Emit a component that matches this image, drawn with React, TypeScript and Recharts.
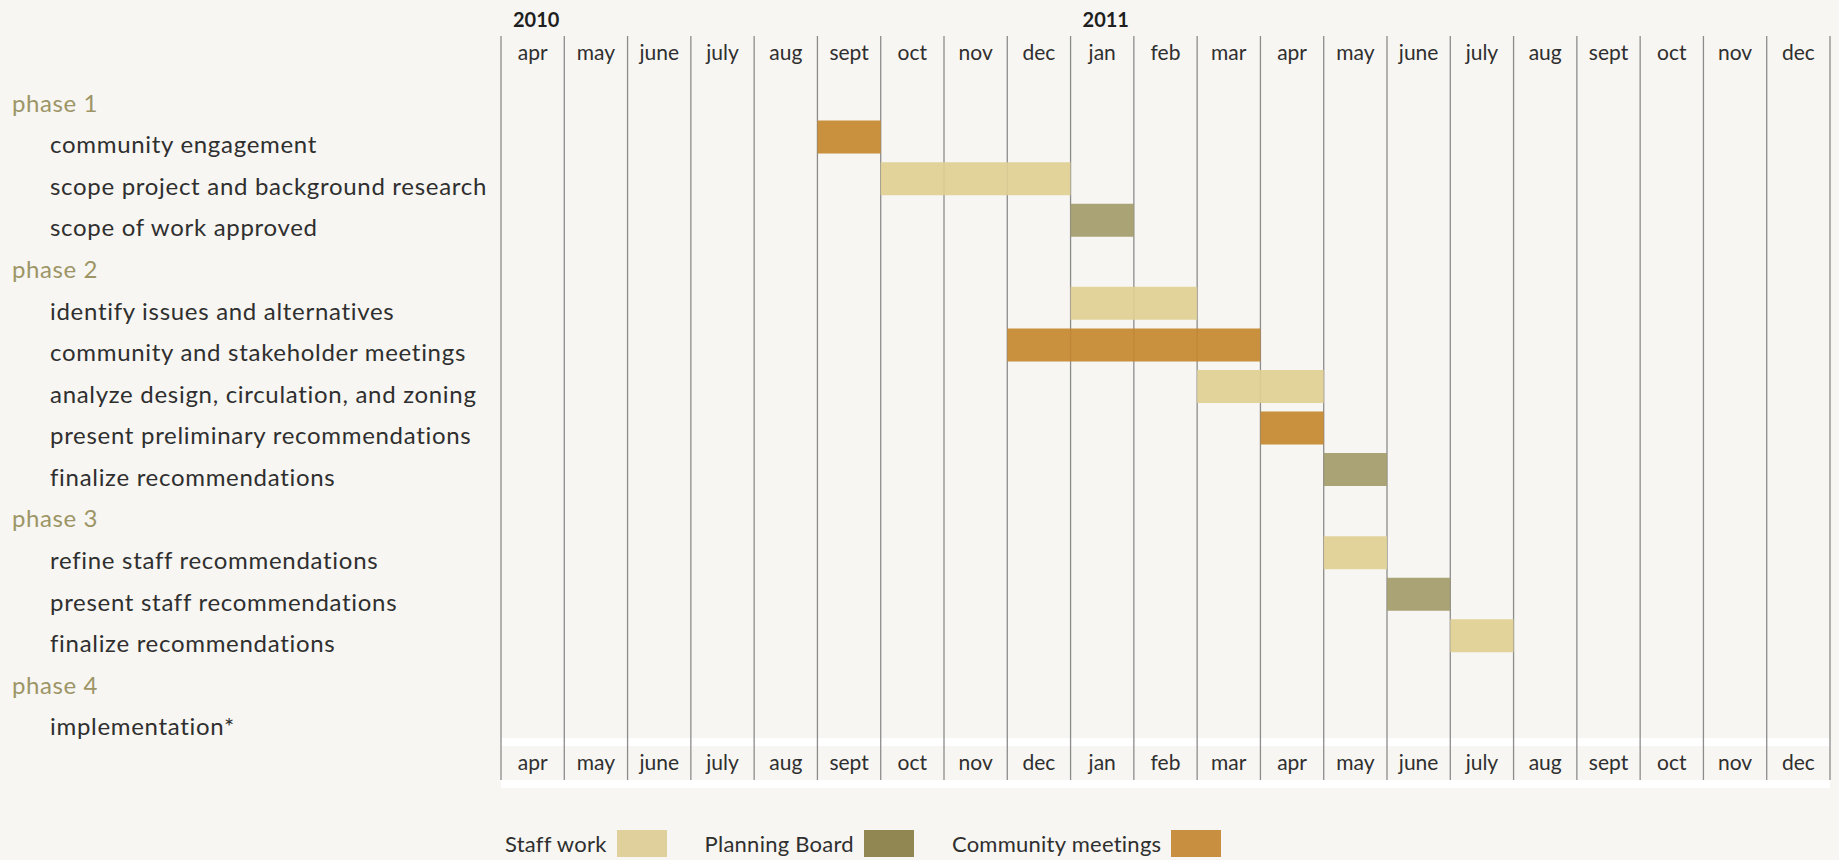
import React from 'react';
import { BarChart, Bar, XAxis, YAxis, CartesianGrid, Cell } from 'recharts';

// ---------- data ----------
const MONTHS = ['apr', 'may', 'june', 'july', 'aug', 'sept', 'oct', 'nov', 'dec', 'jan', 'feb', 'mar', 'apr', 'may', 'june', 'july', 'aug', 'sept', 'oct', 'nov', 'dec'];
const YEAR_LABELS = ['2010', '2011'];
const YEAR_START_MONTH = [0, 9];

const ROW_LABELS = [
  'phase 1',
  'community engagement',
  'scope project and background research',
  'scope of work approved',
  'phase 2',
  'identify issues and alternatives',
  'community and stakeholder meetings',
  'analyze design, circulation, and zoning',
  'present preliminary recommendations',
  'finalize recommendations',
  'phase 3',
  'refine staff recommendations',
  'present staff recommendations',
  'finalize recommendations',
  'phase 4',
  'implementation*',
];
const ROW_KIND = ['phase', 'task', 'task', 'task', 'phase', 'task', 'task', 'task', 'task', 'task', 'phase', 'task', 'task', 'task', 'phase', 'task'];
// month index (0 = apr 2010)
const TASK_START = [null, 5, 6, 9, null, 9, 8, 11, 12, 13, null, 13, 14, 15, null, null];
const TASK_END = [null, 6, 9, 10, null, 11, 12, 13, 13, 14, null, 14, 15, 16, null, null];
const TASK_TYPE = [null, 'community', 'staff', 'board', null, 'staff', 'community', 'staff', 'community', 'board', null, 'staff', 'board', 'staff', null, null];

const LEGEND_KEYS = ['staff', 'board', 'community'];
const LEGEND_LABELS = ['Staff work', 'Planning Board', 'Community meetings'];
const LEGEND_COLORS = ['#e0d09c', '#918752', '#c88f40'];
const BAR_COLORS: Record<string, string> = { staff: '#dfcf94', board: '#a29b6b', community: '#c4872f' };

// ---------- layout ----------
const W = 1839;
const H = 860;
const PLOT_LEFT = 501;
const PLOT_RIGHT = 1830;
const PLOT_TOP = 36;
const PLOT_BOTTOM = 780;
const COL_W = (PLOT_RIGHT - PLOT_LEFT) / MONTHS.length;
const FONT = 'Lato, "Noto Sans", sans-serif';
const PHASE_COLOR = '#9d9566';
const TEXT_COLOR = '#2f2f2f';

const data = ROW_LABELS.map((label, i) => ({
  id: `r${i}`,
  label,
  kind: ROW_KIND[i],
  type: TASK_TYPE[i],
  range: TASK_START[i] != null ? [TASK_START[i], TASK_END[i]] : null,
}));

const gridTicks = Array.from({ length: MONTHS.length + 1 }, (_, i) => i);
const labelTicks = MONTHS.map((_, i) => i + 0.5);

const renderYTick = (props: any) => {
  const { y, payload } = props;
  const row = data.find((d) => d.id === payload.value);
  if (!row) return <g />;
  const isPhase = row.kind === 'phase';
  return (
    <text
      x={isPhase ? 12 : 50}
      y={y + 16}
      textAnchor="start"
      fontFamily={FONT}
      fontSize={24}
      letterSpacing={isPhase ? 0.6 : 0.7}
      fill={isPhase ? PHASE_COLOR : TEXT_COLOR}
    >
      {row.label}
    </text>
  );
};

const renderTopTick = (props: any) => {
  const { x, payload } = props;
  const m = Math.floor(payload.value);
  const yi = YEAR_START_MONTH.indexOf(m);
  return (
    <g>
      {yi >= 0 && (
        <text x={x - COL_W / 2 + 12} y={27} textAnchor="start" fontFamily={FONT} fontWeight={700} fontSize={20} fill="#1f1f1f">
          {YEAR_LABELS[yi]}
        </text>
      )}
      <text x={x} y={PLOT_TOP + 24} textAnchor="middle" fontFamily={FONT} fontSize={21} fill={TEXT_COLOR}>
        {MONTHS[m]}
      </text>
    </g>
  );
};

const renderBottomTick = (props: any) => {
  const { x, payload } = props;
  const m = Math.floor(payload.value);
  return (
    <text x={x} y={PLOT_BOTTOM - 10} textAnchor="middle" fontFamily={FONT} fontSize={21} fill={TEXT_COLOR}>
      {MONTHS[m]}
    </text>
  );
};

export default function App() {
  return (
    <div style={{ position: 'absolute', left: 0, top: 0, width: W, height: H, background: '#f7f6f2', overflow: 'hidden', fontFamily: FONT }}>
      <div style={{ position: 'absolute', left: PLOT_LEFT, width: PLOT_RIGHT - PLOT_LEFT, top: 738, height: 8, background: '#ffffff' }} />
      <div style={{ position: 'absolute', left: PLOT_LEFT, width: PLOT_RIGHT - PLOT_LEFT, top: PLOT_BOTTOM, height: 8, background: '#ffffff' }} />
      <div style={{ position: 'absolute', left: 0, top: 0 }}>
        <BarChart
          width={W}
          height={H}
          data={data}
          layout="vertical"
          margin={{ top: 0, right: W - PLOT_RIGHT, bottom: 0, left: 0 }}
        >
          <CartesianGrid xAxisId="grid" horizontal={false} vertical stroke="#8c8c8c" strokeWidth={1.3} />
          <XAxis xAxisId="grid" type="number" domain={[0, MONTHS.length]} ticks={gridTicks} hide allowDataOverflow />
          <XAxis
            xAxisId="top"
            orientation="top"
            type="number"
            domain={[0, MONTHS.length]}
            ticks={labelTicks}
            interval={0}
            height={PLOT_TOP}
            axisLine={false}
            tickLine={false}
            tick={renderTopTick}
            allowDataOverflow
          />
          <XAxis
            xAxisId="bottom"
            orientation="bottom"
            type="number"
            domain={[0, MONTHS.length]}
            ticks={labelTicks}
            interval={0}
            height={H - PLOT_BOTTOM}
            axisLine={false}
            tickLine={false}
            tick={renderBottomTick}
            allowDataOverflow
          />
          <YAxis
            type="category"
            dataKey="id"
            width={PLOT_LEFT}
            axisLine={false}
            tickLine={false}
            interval={0}
            padding={{ top: 39, bottom: 40 }}
            tick={renderYTick}
          />
          <Bar dataKey="range" xAxisId="grid" barSize={33} fillOpacity={0.92} isAnimationActive={false}>
            {data.map((d) => (
              <Cell key={d.id} fill={d.type ? BAR_COLORS[d.type] : 'transparent'} />
            ))}
          </Bar>
        </BarChart>
      </div>
      <div style={{ position: 'absolute', left: 505, top: 830, display: 'flex', alignItems: 'center', height: 27 }}>
        {LEGEND_KEYS.map((k, i) => (
          <div key={k} style={{ display: 'flex', alignItems: 'center', marginRight: 38 }}>
            <span style={{ fontSize: 22, color: TEXT_COLOR, marginRight: 10, lineHeight: '27px', letterSpacing: 0.25 }}>{LEGEND_LABELS[i]}</span>
            <span style={{ display: 'inline-block', width: 50, height: 27, background: LEGEND_COLORS[i] }} />
          </div>
        ))}
      </div>
    </div>
  );
}
